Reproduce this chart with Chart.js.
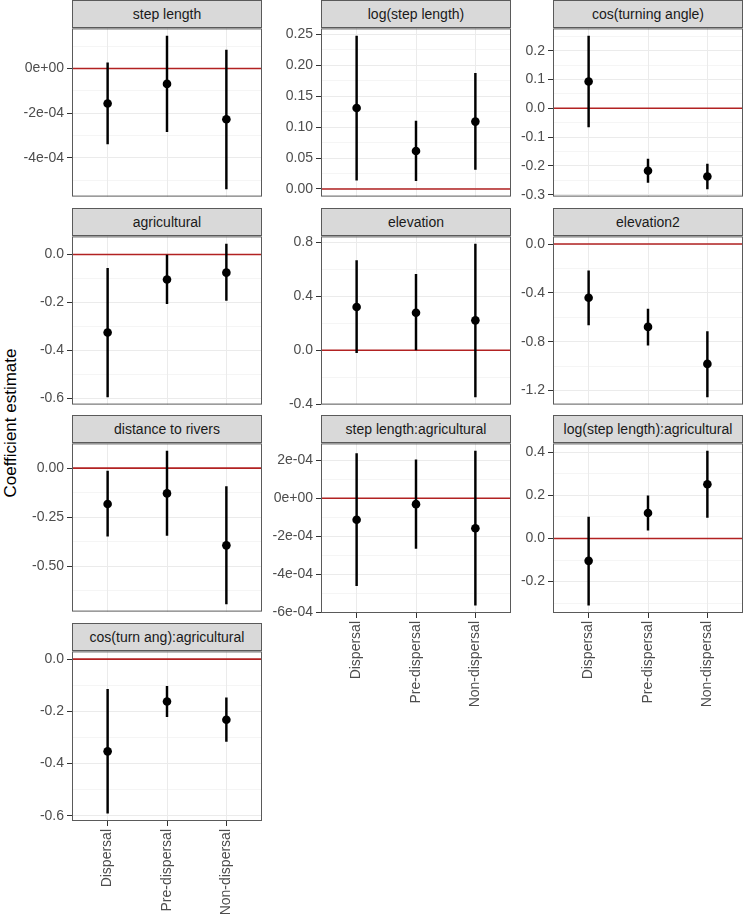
<!DOCTYPE html>
<html>
<head>
<meta charset="utf-8">
<script src="https://cdn.jsdelivr.net/npm/chart.js@4.4.1/dist/chart.umd.min.js"></script>
<style>
  body { margin: 0; background: #fff; width: 744px; height: 917px; position: relative; overflow: hidden;
         font-family: 'Liberation Sans', Arial, sans-serif; }
  .strip { position: absolute; box-sizing: border-box; background: #d9d9d9; border: 1px solid #5a5a5a;
           color: #1a1a1a; font-size: 14px; font-weight: normal; text-align: center; white-space: nowrap; }
  #ytitle { position: absolute; left: -89px; top: 412px; width: 200px; height: 22px; line-height: 22px;
            text-align: center; font-size: 17px; color: #000; transform: rotate(-90deg); }
</style>
</head>
<body>
<div id="ytitle">Coefficient estimate</div>
<script>
// groups on the x axis of every panel
const categories = ['Dispersal', 'Pre-dispersal', 'Non-dispersal'];

// one panel per model term
const terms = ['step length', 'log(step length)', 'cos(turning angle)',
               'agricultural', 'elevation', 'elevation2',
               'distance to rivers', 'step length:agricultural', 'log(step length):agricultural',
               'cos(turn ang):agricultural'];

// point estimate, lower and upper bound per term (Dispersal, Pre-dispersal, Non-dispersal)
const estimates = [
  [-1.57e-4, -0.69e-4, -2.27e-4],
  [0.131, 0.0615, 0.109],
  [0.093, -0.217, -0.237],
  [-0.326, -0.104, -0.0755],
  [0.321, 0.278, 0.222],
  [-0.44, -0.679, -0.982],
  [-0.183, -0.129, -0.394],
  [-1.13e-4, -0.31e-4, -1.58e-4],
  [-0.104, 0.118, 0.251],
  [-0.353, -0.162, -0.232]
];
const lowers = [
  [-3.38e-4, -2.83e-4, -5.39e-4],
  [0.0143, 0.0133, 0.0318],
  [-0.065, -0.257, -0.280],
  [-0.595, -0.205, -0.192],
  [-0.017, 0.0, -0.346],
  [-0.663, -0.829, -1.253],
  [-0.347, -0.344, -0.693],
  [-4.6e-4, -2.64e-4, -5.63e-4],
  [-0.31, 0.038, 0.098],
  [-0.590, -0.220, -0.315]
];
const uppers = [
  [0.25e-4, 1.45e-4, 0.82e-4],
  [0.2475, 0.110, 0.187],
  [0.251, -0.176, -0.194],
  [-0.0575, 0.0, 0.044],
  [0.665, 0.563, 0.788],
  [-0.22, -0.532, -0.717],
  [-0.015, 0.087, -0.094],
  [2.35e-4, 2.02e-4, 2.48e-4],
  [0.099, 0.198, 0.405],
  [-0.116, -0.104, -0.148]
];

// major y breaks and their labels per panel
const yTicks = [
  [-4e-4, -2e-4, 0],
  [0, 0.05, 0.10, 0.15, 0.20, 0.25],
  [-0.3, -0.2, -0.1, 0, 0.1, 0.2],
  [-0.6, -0.4, -0.2, 0],
  [-0.4, 0, 0.4, 0.8],
  [-1.2, -0.8, -0.4, 0],
  [-0.5, -0.25, 0],
  [-6e-4, -4e-4, -2e-4, 0, 2e-4],
  [-0.2, 0, 0.2, 0.4],
  [-0.6, -0.4, -0.2, 0]
];
const yTickLabels = [
  ['-4e-04', '-2e-04', '0e+00'],
  ['0.00', '0.05', '0.10', '0.15', '0.20', '0.25'],
  ['-0.3', '-0.2', '-0.1', '0.0', '0.1', '0.2'],
  ['-0.6', '-0.4', '-0.2', '0.0'],
  ['-0.4', '0.0', '0.4', '0.8'],
  ['-1.2', '-0.8', '-0.4', '0.0'],
  ['-0.50', '-0.25', '0.00'],
  ['-6e-04', '-4e-04', '-2e-04', '0e+00', '2e-04'],
  ['-0.2', '0.0', '0.2', '0.4'],
  ['-0.6', '-0.4', '-0.2', '0.0']
];

// page layout
const colLeft = [72, 321, 553];
const stripTop = [0, 207.7, 415.4, 623];
const stripH = 27, plotW = 190, plotH = 171, axisW = 72, pad = 10, xLabH = 100;
const font = "'Liberation Sans', Arial, sans-serif";

const refLine = {
  id: 'refLine',
  beforeDatasetsDraw(chart) {
    const { ctx, chartArea: a, scales: { y } } = chart;
    const py = y.getPixelForValue(0);
    ctx.save();
    ctx.strokeStyle = '#b22222';
    ctx.lineWidth = 1.6;
    ctx.beginPath();
    ctx.moveTo(a.left, py);
    ctx.lineTo(a.right, py);
    ctx.stroke();
    ctx.restore();
  }
};

const frame = {
  id: 'frame',
  afterDraw(chart) {
    const { ctx, chartArea: a } = chart;
    ctx.save();
    ctx.strokeStyle = '#5a5a5a';
    ctx.lineWidth = 1;
    ctx.strokeRect(a.left + 0.5, a.top + 0.5, a.width - 1, a.height - 1);
    ctx.restore();
  }
};

terms.forEach((term, p) => {
  const row = Math.floor(p / 3), col = p % 3;
  const bottom = p + 3 >= terms.length;
  const top = stripTop[row];

  // y limits like ggplot: data range plus the zero line, expanded by 5%
  const lo = Math.min(0, ...lowers[p]);
  const hi = Math.max(0, ...uppers[p]);
  const ex = (hi - lo) * 0.05;
  const yMin = lo - ex, yMax = hi + ex;

  const major = yTicks[p];
  const step = major[1] - major[0];
  let vals = major.map(v => ({ value: v, isMajor: true }));
  for (let k = -1; k < major.length; k++) {
    const m = (k < 0 ? major[0] - step : major[k]) + step / 2;
    vals.push({ value: m, isMajor: false });
  }
  vals = vals.filter(t => t.value >= yMin - 1e-12 && t.value <= yMax + 1e-12)
             .sort((a, b) => a.value - b.value);

  const canvas = document.createElement('canvas');
  const cw = axisW + plotW + pad;
  const ch = pad + plotH + (bottom ? xLabH : pad);
  canvas.width = cw;
  canvas.height = ch;
  canvas.style.position = 'absolute';
  canvas.style.left = (colLeft[col] - axisW) + 'px';
  canvas.style.top = (top + stripH - pad) + 'px';
  document.body.appendChild(canvas);

  const strip = document.createElement('div');
  strip.className = 'strip';
  strip.style.left = colLeft[col] + 'px';
  strip.style.top = top + 'px';
  strip.style.width = plotW + 'px';
  strip.style.height = (stripH + 1) + 'px';
  strip.style.lineHeight = (stripH - 1) + 'px';
  strip.textContent = term;
  document.body.appendChild(strip);

  new Chart(canvas, {
    type: 'scatter',
    data: {
      datasets: [{
        type: 'scatter',
        data: categories.map((c, i) => ({ x: i + 1, y: estimates[p][i] })),
        backgroundColor: '#000',
        borderWidth: 0,
        pointRadius: 4.3
      }, {
        type: 'bar',
        data: categories.map((c, i) => ({ x: i + 1, y: [lowers[p][i], uppers[p][i]] })),
        backgroundColor: '#000',
        borderWidth: 0,
        barThickness: 1.8
      }]
    },
    options: {
      responsive: false,
      animation: false,
      events: [],
      layout: { padding: { top: pad, right: pad, bottom: bottom ? 0 : pad, left: 0 } },
      plugins: { legend: { display: false }, tooltip: { enabled: false } },
      scales: {
        x: {
          type: 'linear',
          offset: false,
          min: 1 - 0.6,
          max: categories.length + 0.6,
          afterBuildTicks: s => { s.ticks = categories.map((c, i) => ({ value: i + 1 })); },
          afterFit: s => { s.height = bottom ? xLabH : 0; },
          border: { display: false },
          grid: {
            offset: false,
            color: '#ebebeb',
            lineWidth: 1,
            drawTicks: bottom,
            tickLength: 5,
            tickColor: '#333'
          },
          ticks: {
            display: bottom,
            autoSkip: false,
            minRotation: 90,
            maxRotation: 90,
            padding: 3,
            color: '#4d4d4d',
            font: { family: font, size: 14 },
            callback: v => categories[v - 1]
          }
        },
        y: {
          type: 'linear',
          min: yMin,
          max: yMax,
          afterBuildTicks: s => { s.ticks = vals.map(t => ({ ...t })); },
          afterFit: s => { s.width = axisW; },
          border: { display: false },
          grid: {
            color: '#ebebeb',
            lineWidth: c => (c.tick && c.tick.isMajor ? 1 : 0.5),
            drawTicks: true,
            tickLength: 5,
            tickColor: c => (c.tick && c.tick.isMajor ? '#333' : 'rgba(0,0,0,0)')
          },
          ticks: {
            autoSkip: false,
            padding: 3,
            color: '#4d4d4d',
            font: { family: font, size: 14 },
            callback: (v, i, ticks) => {
              const k = major.findIndex(m => Math.abs(m - v) < Math.abs(step) * 1e-6);
              return k >= 0 ? yTickLabels[p][k] : '';
            }
          }
        }
      }
    },
    plugins: [refLine, frame]
  });
});
</script>
</body>
</html>
